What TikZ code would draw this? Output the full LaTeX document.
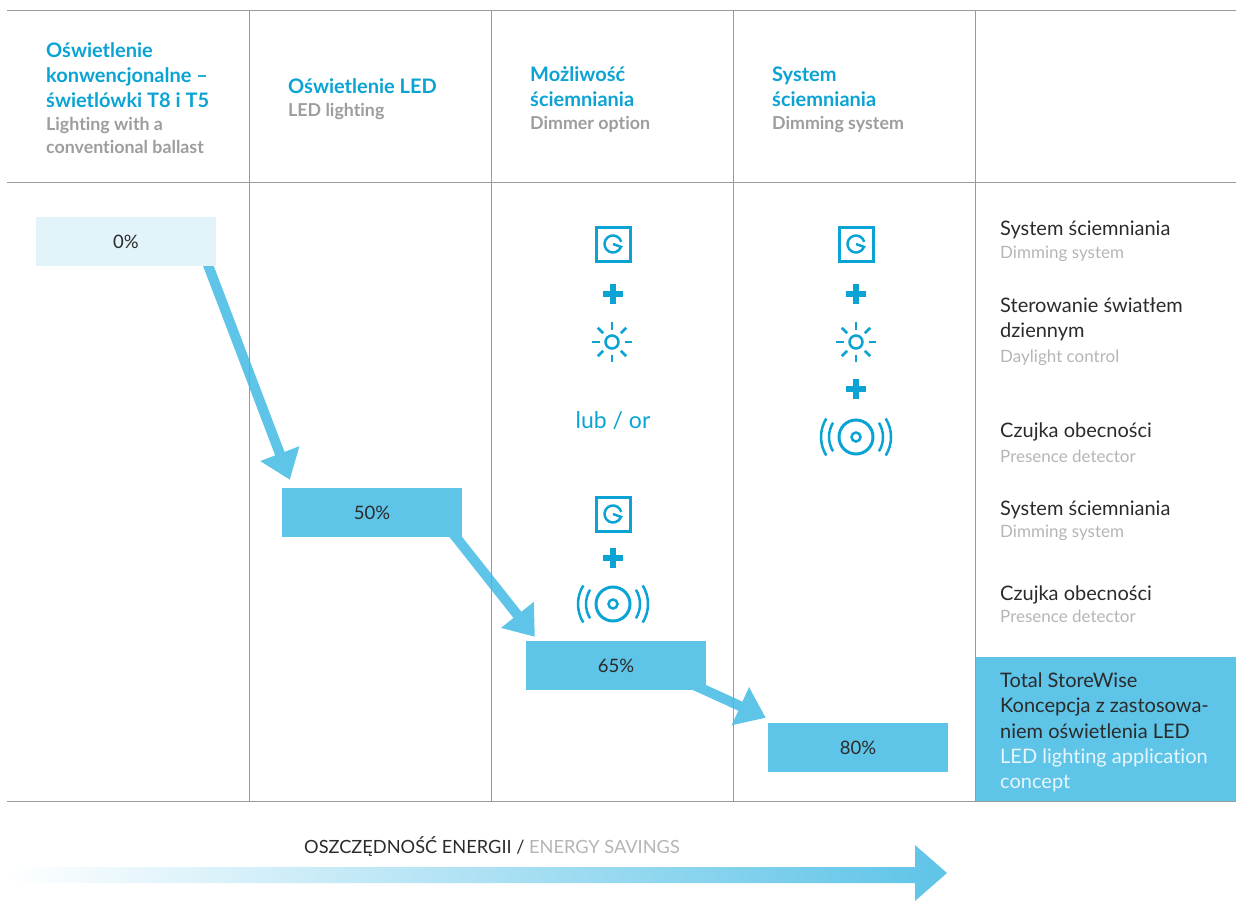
\documentclass[tikz,border=0pt]{standalone}
\usepackage{fontspec}
\setmainfont[Ligatures={NoCommon,TeX}]{Lato}
\usetikzlibrary{arrows.meta,calc}
\definecolor{hblue}{HTML}{0AA3D3}
\definecolor{boxblue}{HTML}{5EC4E8}
\definecolor{lightbox}{HTML}{E3F3FA}
\definecolor{gridgray}{HTML}{9A9A9A}
\definecolor{darktxt}{HTML}{2B2B2B}
\definecolor{subgray}{HTML}{B5B5B5}
\definecolor{hsubgray}{HTML}{9D9D9D}
\definecolor{boxsub}{HTML}{E6F6FC}
\pgfdeclarelayer{bg}
\pgfsetlayers{bg,main}
\begin{document}
\begin{tikzpicture}[x=1pt,y=1pt,
 grid/.style={draw=gridgray,line width=1pt},
 hdr/.style={anchor=base west,inner sep=0pt,text=hblue,font=\bfseries\fontsize{20}{24}\selectfont},
 hsub/.style={anchor=base west,inner sep=0pt,text=hsubgray,font=\bfseries\fontsize{17.8}{21}\selectfont},
 rtxt/.style={anchor=base west,inner sep=0pt,text=darktxt,font=\fontsize{20}{24}\selectfont},
 rsub/.style={anchor=base west,inner sep=0pt,text=subgray,font=\fontsize{17}{20}\selectfont},
 pbox/.style={fill=boxblue,minimum width=180pt,minimum height=49pt,inner sep=0pt,text=darktxt,font=\fontsize{18.5}{22}\selectfont},
 flow/.style={draw=boxblue,line width=10pt,-{Triangle[width=40pt,length=28pt]}},
 ico/.style={draw=hblue,line width=3pt},
 dimmer/.pic={\draw[ico] (-17,-17) rectangle (17,17);
   \draw[ico,line width=2.5pt] (15:8.5) arc[start angle=15,end angle=340,radius=8.5] -- (0,0);},
 plusicon/.pic={\fill[hblue] (-10,-3) rectangle (10,3); \fill[hblue] (-3,-10) rectangle (3,10);},
 sunicon/.pic={\draw[hblue,line width=2.5pt] (0,0) circle[radius=6.5];
   \foreach \a in {0,45,...,315} \draw[hblue,line width=2.5pt] (\a:12.5) -- (\a:20);},
 presence/.pic={\draw[ico] (0,0) circle[radius=17];
   \draw[ico,line width=2.5pt] (0,0) circle[radius=4.5];
   \foreach \r in {27,35} {
     \draw[ico,line width=2.5pt] (-32:\r) arc[start angle=-32,end angle=32,radius=\r];
     \draw[ico,line width=2.5pt] (148:\r) arc[start angle=148,end angle=212,radius=\r];}},
]
\useasboundingbox (0,0) rectangle (1236,-902);

% right highlighted box
\node[fill=boxblue,anchor=north west,minimum width=260pt,minimum height=144pt,inner sep=0pt] (rb) at (976,-657) {};

% grid
\draw[grid] (7,-10) -- (1236,-10);
\draw[grid] (7,-182) -- (1236,-182);
\draw[grid] (7,-801) -- (1236,-801);
\foreach \x in {249,491,733,975} \draw[grid] (\x,-10) -- (\x,-801);

% headers
\node[hdr] (h1a) at (46,-57) {Oświetlenie};
\node[hdr] (h1b) at (46,-82) {konwencjonalne –};
\node[hdr] (h1c) at (46,-107) {świetlówki T8 i T5};
\node[hsub] (h1d) at (46,-130) {Lighting with a};
\node[hsub] (h1e) at (46,-153) {conventional ballast};
\node[hdr] (h2a) at (288,-93) {Oświetlenie LED};
\node[hsub] (h2b) at (288,-116) {LED lighting};
\node[hdr] (h3a) at (530,-81) {Możliwość};
\node[hdr] (h3b) at (530,-106) {ściemniania};
\node[hsub] (h3c) at (530,-129) {Dimmer option};
\node[hdr] (h4a) at (772,-81) {System};
\node[hdr] (h4b) at (772,-106) {ściemniania};
\node[hsub] (h4c) at (772,-129) {Dimming system};

% percentage boxes
\node[pbox,fill=lightbox] (b0) at (126,-241.5) {0\%};
\node[pbox] (b50) at (372,-512.5) {50\%};
\node[pbox] (b65) at (616,-665.5) {65\%};
\node[pbox] (b80) at (858,-747.5) {80\%};

\begin{pgfonlayer}{bg}
\draw[flow] ($(b0.south east)+(-10,6)$) -- ($(b50.north west)+(8,8)$);
\draw[flow] ($(b50.south east)+(-11,6)$) -- ($(b65.north west)+(9,4)$);
\draw[flow] ($(b65.south east)+(-14,6)$) -- ($(b80.north west)+(-2,5)$);
\end{pgfonlayer}

% icons column 3
\pic (d1) at (613,-244) {dimmer};
\pic (p1) at (613,-294) {plusicon};
\pic (s1) at (612,-342) {sunicon};
\node[text=hblue,font=\fontsize{23}{27}\selectfont,anchor=base,inner sep=0pt] (lub) at (613,-428) {lub / or};
\pic (d2) at (613,-514) {dimmer};
\pic (p2) at (613,-558) {plusicon};
\pic (c2) at (613,-604) {presence};

% icons column 4
\pic (d3) at (856,-244) {dimmer};
\pic (p3) at (856,-294) {plusicon};
\pic (s3) at (856,-342) {sunicon};
\pic (p4) at (856,-389) {plusicon};
\pic (c3) at (856,-437) {presence};

% right column texts
\node[rtxt] (r1) at (1000,-235) {System ściemniania};
\node[rsub] (r1s) at (1000,-258) {Dimming system};
\node[rtxt] (r2) at (1000,-312) {Sterowanie światłem};
\node[rtxt] (r2b) at (1000,-337) {dziennym};
\node[rsub] (r2s) at (1000,-362) {Daylight control};
\node[rtxt] (r3) at (1000,-437) {Czujka obecności};
\node[rsub] (r3s) at (1000,-462) {Presence detector};
\node[rtxt] (r4) at (1000,-515) {System ściemniania};
\node[rsub] (r4s) at (1000,-537) {Dimming system};
\node[rtxt] (r5) at (1000,-600) {Czujka obecności};
\node[rsub] (r5s) at (1000,-622) {Presence detector};
\node[rtxt] (t1) at (1000,-687) {Total StoreWise};
\node[rtxt] (t2) at (1000,-712) {Koncepcja z zastosowa-};
\node[rtxt] (t3) at (1000,-738) {niem oświetlenia LED};
\node[rtxt,text=boxsub] (t4) at (1000,-763) {LED lighting application};
\node[rtxt,text=boxsub] (t5) at (1000,-788) {concept};

% energy savings arrow
\shade[left color=white,right color=boxblue] (5,-867) -- (915,-867) -- (915,-845) -- (947,-873) -- (915,-901) -- (915,-883) -- (5,-883) -- cycle;
\node[anchor=base,inner sep=0pt,font=\fontsize{18.2}{22}\selectfont,text=darktxt] (es) at (492,-853) {OSZCZĘDNOŚĆ ENERGII / \textcolor{subgray}{ENERGY SAVINGS}};
\end{tikzpicture}
\end{document}
